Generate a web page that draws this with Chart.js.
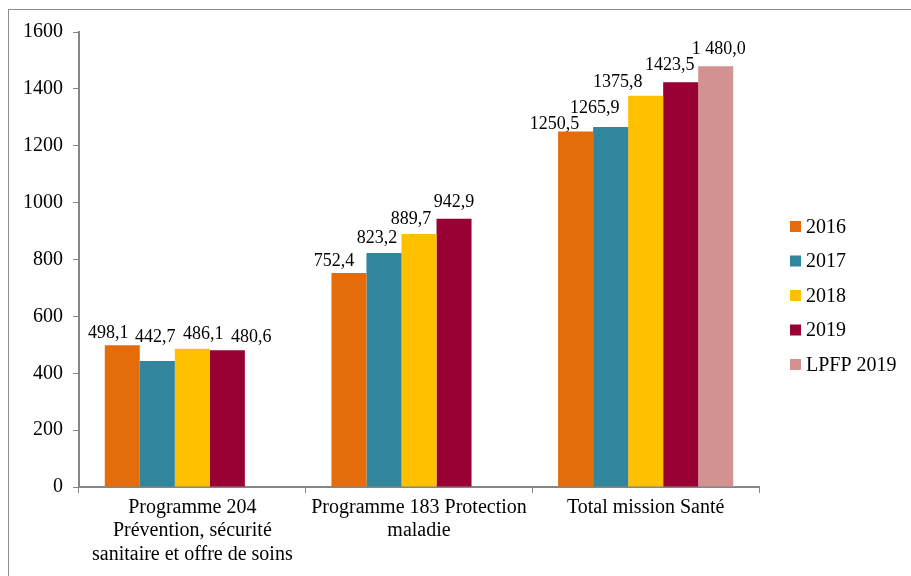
<!DOCTYPE html>
<html lang="fr">
<head>
<meta charset="utf-8">
<title>Mission Santé</title>
<script src="https://cdn.jsdelivr.net/npm/chart.js@4.4.1/dist/chart.umd.min.js"></script>
<style>
  html, body { margin: 0; padding: 0; background: #fff; overflow: hidden; }
  #wrap { position: relative; width: 911px; height: 576px; }
  #frame { position: absolute; left: 8px; top: 9px; width: 1000px; height: 1000px;
           border: 1px solid #8c8c8c; box-sizing: border-box; pointer-events: none; }
  canvas { position: absolute; left: 0; top: 0; }
</style>
</head>
<body>
<div id="wrap">
  <div id="frame"></div>
  <canvas id="chart" width="911" height="576"></canvas>
</div>
<script>
/* Crédits mission Santé, 2016-2019 vs LPFP 2019 (M€) */

const categories = [
  ['Programme 204', 'Prévention, sécurité', 'sanitaire et offre de soins'],
  ['Programme 183 Protection', 'maladie'],
  ['Total mission Santé'],
];
const seriesNames = ['2016', '2017', '2018', '2019', 'LPFP 2019'];
const v2016 = [498.1, 752.4, 1250.5];
const v2017 = [442.7, 823.2, 1265.9];
const v2018 = [486.1, 889.7, 1375.8];
const v2019 = [480.6, 942.9, 1423.5];
const vLpfp = [null, null, 1480.0];
const yTicks = [0, 200, 400, 600, 800, 1000, 1200, 1400, 1600];

const COLORS = ['#E46C0A', '#31859C', '#FFC000', '#990033', '#D39292'];
const FONT = "'Liberation Serif', 'Times New Roman', serif";

// hand-placed labels in the original: [dx, rise above bar top]
const labelNudge = [
  [[-14, 7], [-15, 7], [-21, 2]],
  [[-2, 19], [-7, 10], [-16, 14]],
  [[11, 10], [-8, 10], [-28, 9]],
  [[24, 8], [0, 12], [-11, 12]],
  [null, null, [3, 12]],
];

const fmtFr = (v, group) => {
  let s = v.toFixed(1).replace('.', ',');
  if (group) s = s.replace(/^(\d)(\d{3})/, '$1 $2');
  return s;
};

const valueLabels = {
  id: 'valueLabels',
  afterDatasetsDraw(chart) {
    const ctx = chart.ctx;
    ctx.save();
    ctx.font = '18px ' + FONT;
    ctx.fillStyle = '#000';
    ctx.textAlign = 'center';
    ctx.textBaseline = 'alphabetic';
    chart.data.datasets.forEach((ds, di) => {
      const meta = chart.getDatasetMeta(di);
      meta.data.forEach((bar, i) => {
        const v = ds.data[i];
        if (v == null) return;
        const n = labelNudge[di][i] || [0, 6];
        ctx.fillText(fmtFr(v, ds.groupThousands), bar.x + n[0], bar.y - n[1]);
      });
    });
    ctx.restore();
  }
};

const sideLegend = {
  id: 'sideLegend',
  afterDraw(chart) {
    const ctx = chart.ctx;
    const x0 = chart.chartArea.right + 31;
    ctx.save();
    ctx.font = '20px ' + FONT;
    ctx.textBaseline = 'middle';
    ctx.textAlign = 'left';
    chart.data.datasets.forEach((ds, i) => {
      const cy = 226.5 + i * 34.5;
      ctx.fillStyle = ds.backgroundColor;
      ctx.fillRect(x0, cy - 5.5, 11, 11);
      ctx.fillStyle = '#000';
      ctx.fillText(ds.label, x0 + 16, cy + 1);
    });
    ctx.restore();
  }
};

const datasets = [v2016, v2017, v2018, v2019, vLpfp].map((data, i) => ({
  label: seriesNames[i],
  data,
  backgroundColor: COLORS[i],
  borderWidth: 0,
  groupThousands: i === 4,
}));

new Chart(document.getElementById('chart'), {
  type: 'bar',
  data: { labels: categories, datasets },
  plugins: [valueLabels, sideLegend],
  options: {
    responsive: false,
    animation: false,
    layout: { padding: { left: 0, top: 32, right: 152, bottom: 0 } },
    datasets: { bar: { categoryPercentage: 0.7726, barPercentage: 1 } },
    plugins: { legend: { display: false }, tooltip: { enabled: false } },
    scales: {
      x: {
        offset: true,
        grid: { offset: true, drawOnChartArea: false, color: '#868686', tickLength: 6, lineWidth: 1 },
        border: { color: '#868686', width: 2 },
        ticks: { color: '#000', font: { family: FONT, size: 20, lineHeight: 1.17 },
                 maxRotation: 0, autoSkip: false, padding: 3 },
        afterFit(scale) { scale.height = 89; },
      },
      y: {
        min: 0, max: 1600,
        afterBuildTicks(scale) { scale.ticks = yTicks.map(value => ({ value })); },
        grid: { drawOnChartArea: false, color: '#868686', tickLength: 6 },
        border: { color: '#868686', width: 2 },
        ticks: { color: '#000', font: { family: FONT, size: 20 }, padding: 10,
                 callback: v => String(v) },
        afterFit(scale) { scale.width = 79; },
      },
    },
  },
});
</script>
</body>
</html>
